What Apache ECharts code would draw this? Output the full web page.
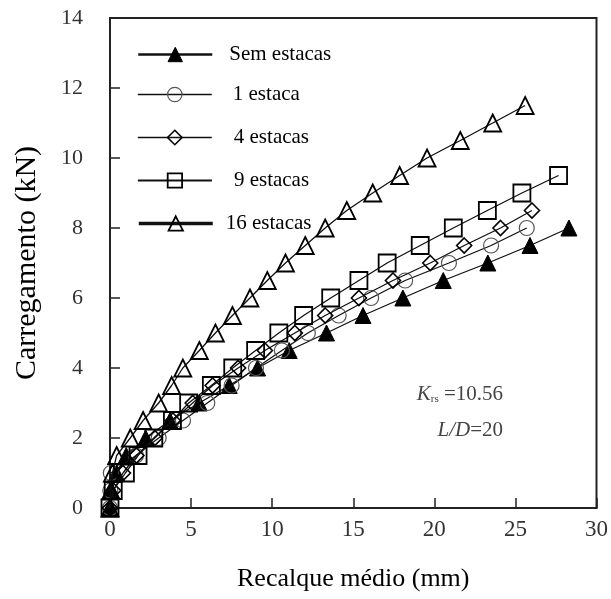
<!DOCTYPE html>
<html>
<head>
<meta charset="utf-8">
<script src="https://cdn.jsdelivr.net/npm/echarts@6/dist/echarts.min.js"></script>
<style>html,body{margin:0;padding:0;background:#fff;}#c{width:611px;height:599px;}</style>
</head>
<body>
<div id="c"></div>
<script>
// ---- data ----
var xTicks = [0, 5, 10, 15, 20, 25, 30];
var yTicks = [0, 2, 4, 6, 8, 10, 12, 14];
var seriesNames = ['Sem estacas', '1 estaca', '4 estacas', '9 estacas', '16 estacas'];

var semLoad = [0, 0.5, 1, 1.5, 2, 2.5, 3, 3.5, 4, 4.5, 5, 5.5, 6, 6.5, 7, 7.5, 8];
var semSettle = [0, 0.1, 0.4, 1.0, 2.2, 3.7, 5.5, 7.35, 9.1, 11.05, 13.35, 15.6, 18.06, 20.55, 23.3, 25.9, 28.3];

var e1Load = [0, 0.5, 1, 1.5, 2, 2.5, 3, 3.5, 4, 4.5, 5, 5.5, 6, 6.5, 7, 7.5, 8];
var e1Settle = [0, 0.02, 0.05, 1.6, 3.0, 4.5, 6.0, 7.5, 9.0, 10.6, 12.2, 14.1, 16.1, 18.2, 20.9, 23.5, 25.7];

var e4Load = [0, 0.5, 1, 1.5, 2, 2.5, 3, 3.5, 4, 4.5, 5, 5.5, 6, 6.5, 7, 7.5, 8, 8.5];
var e4Settle = [0, 0.2, 0.8, 1.63, 2.76, 3.88, 5.1, 6.33, 7.9, 9.55, 11.4, 13.27, 15.35, 17.45, 19.75, 21.84, 24.08, 26.02];

var e9Load = [0, 0.5, 1, 1.5, 2, 2.5, 3, 3.5, 4, 4.5, 5, 5.5, 6, 6.5, 7, 7.5, 8, 8.5, 9, 9.5];
var e9Settle = [0, 0.2, 0.95, 1.73, 2.7, 3.85, 4.85, 6.25, 7.57, 8.98, 10.41, 11.94, 13.61, 15.35, 17.09, 19.13, 21.17, 23.27, 25.4, 27.66];

var e16Load = [0, 0.5, 1, 1.5, 2, 2.5, 3, 3.5, 4, 4.5, 5, 5.5, 6, 6.5, 7, 7.5, 8, 8.5, 9, 9.5, 10, 10.5, 11, 11.5];
var e16Settle = [0, 0.05, 0.15, 0.41, 1.25, 2.04, 3.0, 3.8, 4.49, 5.51, 6.5, 7.55, 8.63, 9.7, 10.82, 12.04, 13.27, 14.6, 16.2, 17.86, 19.55, 21.6, 23.6, 25.6];

var annotK = '10.56';
var annotLD = '20';

function pairs(xs, ys) { return xs.map(function (x, i) { return [x, ys[i]]; }); }

var FONT = 'Liberation Serif';
var NONE = 'rgba(0,0,0,0)';

var styles = [
  { symbol: 'triangle', size: 16, fill: '#000', border: '#000', bw: 1, legendLine: 2.5 },
  { symbol: 'circle', size: 15, fill: NONE, border: '#555', bw: 1.2, legendLine: 1.6 },
  { symbol: 'diamond', size: 15, fill: NONE, border: '#000', bw: 1.6, legendLine: 1.6 },
  { symbol: 'rect', size: 17, fill: NONE, border: '#000', bw: 1.8, legendLine: 1.8 },
  { symbol: 'triangle', size: 17, fill: NONE, border: '#000', bw: 1.8, legendLine: 3.5 }
];
var dataSets = [
  pairs(semSettle, semLoad),
  pairs(e1Settle, e1Load),
  pairs(e4Settle, e4Load),
  pairs(e9Settle, e9Load),
  pairs(e16Settle, e16Load)
];

var series = seriesNames.map(function (n, i) {
  var s = styles[i];
  return {
    name: n, type: 'line', data: dataSets[i],
    symbol: s.symbol, symbolSize: s.size,
    showAllSymbol: true, animation: false, z: 2 + i,
    lineStyle: { color: '#111', width: 1.3 },
    itemStyle: { color: s.fill, borderColor: s.border, borderWidth: s.bw }
  };
});

// legend layout (one legend per entry)
var legendTops = [53, 93, 136, 179, 222];
var legendTextPad = [12, 16, 17, 17, 8];
var legends = seriesNames.map(function (n, i) {
  var s = styles[i];
  return {
    left: 137, top: legendTops[i] - 9, orient: 'vertical', padding: 0,
    itemWidth: 74, itemHeight: 18, selectedMode: false,
    textStyle: { fontFamily: FONT, fontSize: 21, color: '#000', padding: [0, 0, 0, legendTextPad[i]] },
    data: [{
      name: n,
      itemStyle: { color: s.fill, borderColor: s.border, borderWidth: s.bw },
      lineStyle: { color: '#111', width: s.legendLine }
    }]
  };
});

var chart = echarts.init(document.getElementById('c'), null, { renderer: 'canvas' });
chart.setOption({
  backgroundColor: '#fff',
  animation: false,
  grid: { left: 110, right: 11, top: 18, bottom: 91, show: true, borderColor: '#222', borderWidth: 2, backgroundColor: NONE },
  legend: legends,
  xAxis: {
    type: 'value', min: xTicks[0], max: xTicks[xTicks.length - 1], interval: xTicks[1] - xTicks[0],
    name: 'Recalque médio (mm)', nameLocation: 'middle', nameGap: 58,
    nameTextStyle: { fontFamily: FONT, fontSize: 26, color: '#000' },
    axisLine: { show: true, lineStyle: { color: '#222', width: 2 } },
    axisTick: { show: true, inside: true, length: 10, lineStyle: { color: '#222', width: 1.5 } },
    axisLabel: { fontFamily: FONT, fontSize: 23, color: '#333', margin: 10 },
    splitLine: { show: false }
  },
  yAxis: {
    type: 'value', min: yTicks[0], max: yTicks[yTicks.length - 1], interval: yTicks[1] - yTicks[0],
    name: 'Carregamento (kN)', nameLocation: 'middle', nameGap: 68,
    nameTextStyle: { fontFamily: FONT, fontSize: 30, color: '#000' },
    axisLine: { show: true, lineStyle: { color: '#222', width: 2 } },
    axisTick: { show: true, inside: true, length: 10, lineStyle: { color: '#222', width: 1.5 } },
    axisLabel: { fontFamily: FONT, fontSize: 22, color: '#333', margin: 27 },
    splitLine: { show: false }
  },
  graphic: [
    {
      type: 'text', x: 503, y: 394, z: 100,
      style: {
        text: '{k|K}{s|rs} =' + annotK, textAlign: 'right', textVerticalAlign: 'middle',
        fontFamily: FONT, fontSize: 21, fill: '#444',
        rich: {
          k: { fontFamily: FONT, fontStyle: 'italic', fontSize: 21, fill: '#444' },
          s: { fontFamily: FONT, fontSize: 11, fill: '#444', padding: [10, 0, 0, 0] }
        }
      }
    },
    {
      type: 'text', x: 503, y: 430, z: 100,
      style: {
        text: '{i|L/D}=' + annotLD, textAlign: 'right', textVerticalAlign: 'middle',
        fontFamily: FONT, fontSize: 21, fill: '#444',
        rich: { i: { fontFamily: FONT, fontStyle: 'italic', fontSize: 21, fill: '#444' } }
      }
    }
  ],
  series: series
});
</script>
</body>
</html>
